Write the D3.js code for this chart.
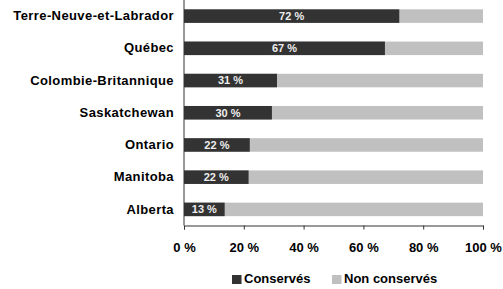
<!DOCTYPE html>
<html>
<head>
<meta charset="utf-8">
<script src="https://cdn.jsdelivr.net/npm/d3@7"></script>
<style>
  body { margin: 0; background: #fff; }
  text { font-family: "Liberation Sans", Arial, sans-serif; font-weight: bold; }
</style>
</head>
<body>
<script>
var provinces = ['Terre-Neuve-et-Labrador', 'Québec', 'Colombie-Britannique', 'Saskatchewan', 'Ontario', 'Manitoba', 'Alberta'];
var conserves = [72, 67, 31, 30, 22, 22, 13];
var conservesShown = [72, 67.2, 31.1, 29.4, 22, 21.6, 13.6];
var seriesNames = ['Conservés', 'Non conservés'];
var ticks = [0, 20, 40, 60, 80, 100];

var width = 503;
var height = 289;
var colors = ['#333333', '#c0c0c0'];

var svg = d3.select('body').append('svg')
  .attr('width', width)
  .attr('height', height);

var x = d3.scaleLinear().domain([0, 100]).range([184, 483]);
var y = d3.scaleBand().domain(provinces).range([0, 225.5]).paddingInner(0.58).paddingOuter(0.29);

var rows = provinces.map(function(p, i) {
  return { name: p, value: conservesShown[i], label: conserves[i] };
});

// full bars (non conservés)
svg.selectAll('.rest')
  .data(rows)
  .enter()
    .append('rect')
    .attr('class', 'rest')
    .attr('x', x(0))
    .attr('y', function(d) { return y(d.name); })
    .attr('width', x(100) - x(0))
    .attr('height', y.bandwidth())
    .attr('fill', colors[1]);

svg.selectAll('.kept')
  .data(rows)
  .enter()
    .append('rect')
    .attr('class', 'kept')
    .attr('x', x(0))
    .attr('y', function(d) { return y(d.name); })
    .attr('width', function(d) { return x(d.value) - x(0); })
    .attr('height', y.bandwidth())
    .attr('fill', colors[0]);

svg.selectAll('.val')
  .data(rows)
  .enter()
    .append('text')
    .attr('class', 'val')
    .attr('x', function(d) { return (x(0) + x(d.value)) / 2; })
    .attr('y', function(d) { return y(d.name) + y.bandwidth() / 2; })
    .attr('dy', '0.36em')
    .attr('text-anchor', 'middle')
    .attr('font-size', 11)
    .attr('fill', '#eeeeee')
    .text(function(d) { return d.label + ' %'; });

// category axis
var yAxis = svg.append('g')
  .attr('transform', 'translate(' + x(0) + ',0)')
  .call(d3.axisLeft(y).tickSize(0).tickPadding(10));
yAxis.select('.domain').attr('stroke', '#333').attr('d', 'M0,0V225.5');
yAxis.selectAll('text')
  .attr('font-size', 13)
  .attr('letter-spacing', 0.4)
  .attr('fill', '#000');

// value axis
var xAxis = svg.append('g')
  .attr('transform', 'translate(0,225.5)')
  .call(d3.axisBottom(x).tickValues(ticks).tickSize(4).tickPadding(13)
    .tickFormat(function(d) { return d + ' %'; }));
xAxis.select('.domain').attr('stroke', '#333');
xAxis.selectAll('line').attr('stroke', '#333');
xAxis.selectAll('text').attr('font-size', 13).attr('fill', '#000');

// legend
var legendX = [232, 332];
var legend = svg.selectAll('.legend')
  .data(seriesNames)
  .enter()
    .append('g')
    .attr('class', 'legend')
    .attr('transform', function(d, i) { return 'translate(' + legendX[i] + ',275)'; });
legend.append('rect')
  .attr('width', 9.5)
  .attr('height', 9)
  .attr('fill', function(d, i) { return colors[i]; });
legend.append('text')
  .attr('x', 12)
  .attr('y', 8.3)
  .attr('font-size', 13)
  .text(function(d) { return d; });
</script>
</body>
</html>
